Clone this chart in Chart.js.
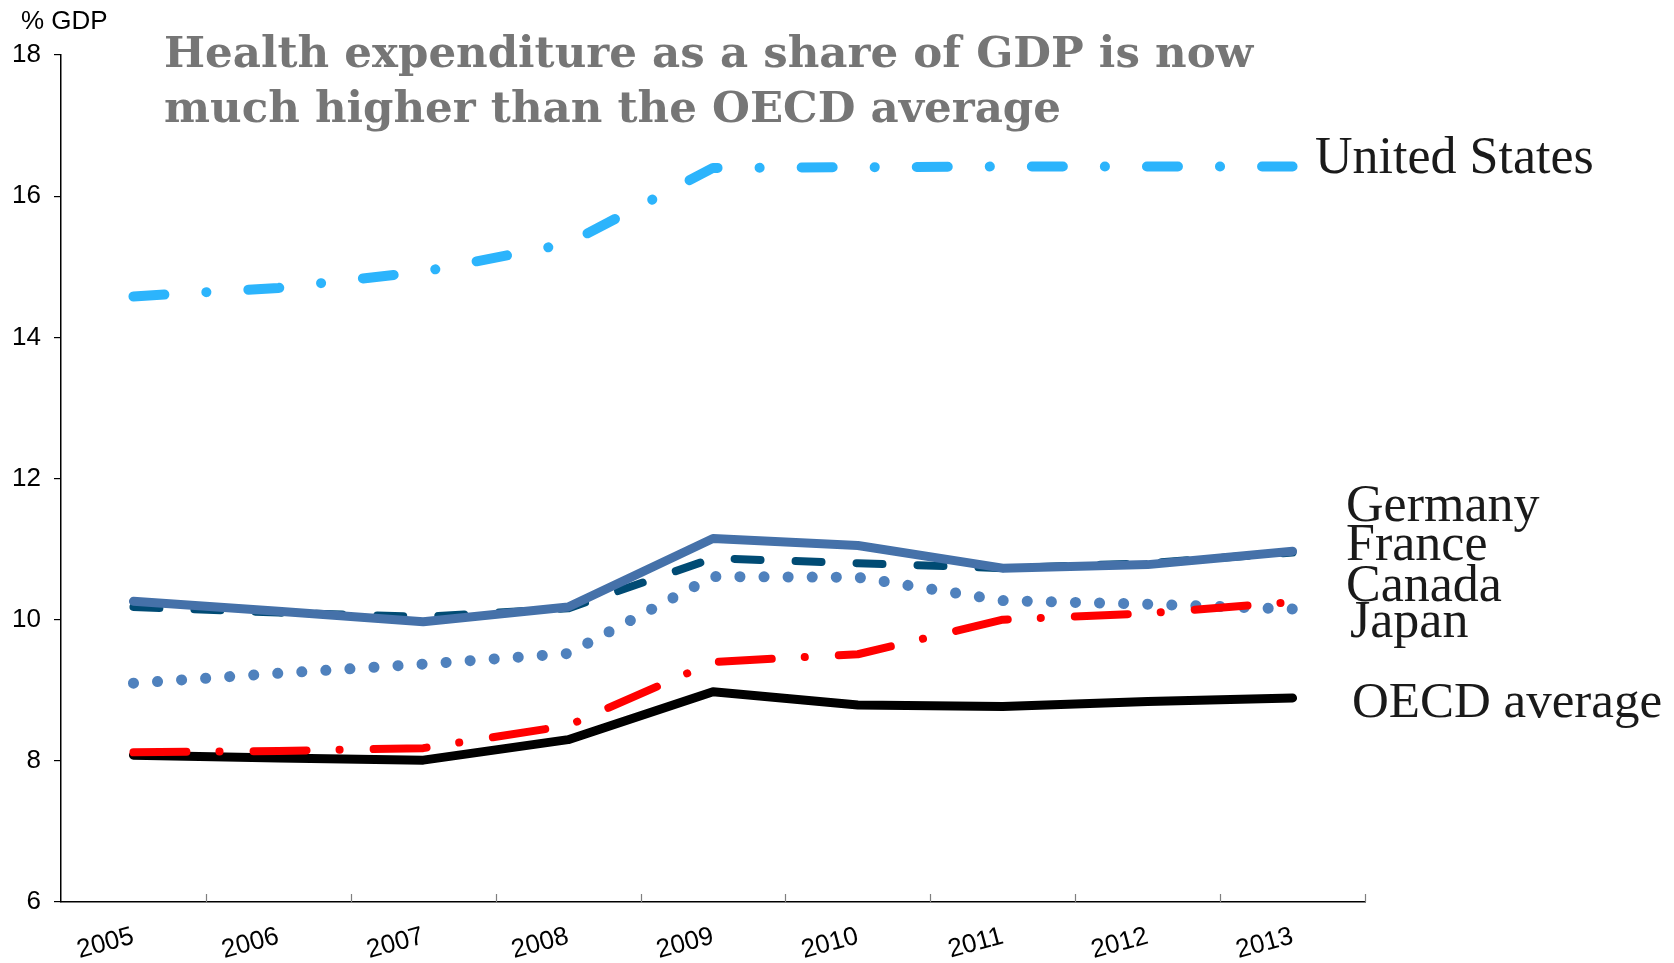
<!DOCTYPE html>
<html>
<head>
<meta charset="utf-8">
<script src="https://cdn.jsdelivr.net/npm/chart.js@4.4.1/dist/chart.umd.min.js"></script>
<style>
    html, body { margin: 0; padding: 0; background: #ffffff; }
    #wrap { width: 1674px; height: 963px; }
</style>
</head>
<body>
<div id="wrap"><canvas id="health-chart" width="1674" height="963"></canvas></div>
<script>
const years = ['2005', '2006', '2007', '2008', '2009', '2010', '2011', '2012', '2013'];
const yTicks = [6, 8, 10, 12, 14, 16, 18];

const unitedStates = [14.58, 14.70, 14.93, 15.33, 16.40, 16.41, 16.42, 16.42, 16.42];
const germany = [10.26, 10.12, 9.97, 10.18, 11.15, 11.05, 10.73, 10.78, 10.97];
const france = [10.18, 10.10, 10.04, 10.16, 10.87, 10.80, 10.73, 10.80, 10.95];
const japan = [8.12, 8.14, 8.18, 8.50, 9.40, 9.51, 10.00, 10.09, 10.25];
const canada = [9.10, 9.24, 9.37, 9.52, 10.61, 10.60, 10.27, 10.22, 10.15];
const oecdAverage = [8.08, 8.04, 8.01, 8.30, 8.98, 8.79, 8.77, 8.84, 8.89];

const titleLines = ['Health expenditure as a share of GDP is now', 'much higher than the OECD average'];

function lineSet(label, data, color, width, dash) {
    return {
        label: label,
        data: data,
        borderColor: color,
        backgroundColor: color,
        borderWidth: width,
        borderDash: dash,
        borderCapStyle: 'round',
        borderJoinStyle: 'round',
        pointRadius: 0,
        pointHoverRadius: 0,
        tension: 0,
        fill: false
    };
}

// draws the inside ticks on the x axis, title and series names
const annotations = {
    id: 'annotations',
    afterDraw(chart) {
        const ctx = chart.ctx;
        const area = chart.chartArea;
        const x = chart.scales.x;
        const band = x.getPixelForValue(1) - x.getPixelForValue(0);

        ctx.save();
        ctx.strokeStyle = '#7f7f7f';
        ctx.lineWidth = 1.2;
        for (let i = 1; i <= years.length; i++) {
            const px = Math.round(x.getPixelForValue(i) - band / 2) + 0.5;
            ctx.beginPath();
            ctx.moveTo(px, area.bottom);
            ctx.lineTo(px, area.bottom - 8);
            ctx.stroke();
        }

        ctx.fillStyle = '#000000';
        ctx.font = '26px "Liberation Sans", Arial, sans-serif';
        ctx.textBaseline = 'alphabetic';
        ctx.textAlign = 'left';
        ctx.fillText('% GDP', 21, 29);

        ctx.fillStyle = '#767676';
        ctx.font = 'bold 43.5px "DejaVu Serif", serif';
        ctx.fillText(titleLines[0], 164, 67);
        ctx.fillText(titleLines[1], 164, 122);

        ctx.fillStyle = '#1a1a1a';
        ctx.font = '52px "Liberation Serif", "Times New Roman", serif';
        ctx.fillText('United States', 1315, 173);
        ctx.fillText('Germany', 1346, 521);
        ctx.fillText('France', 1346, 560);
        ctx.fillText('Canada', 1346, 601);
        ctx.fillText('Japan', 1350, 637);
        ctx.font = '51px "Liberation Serif", "Times New Roman", serif';
        ctx.fillText('OECD average', 1352, 717);
        ctx.restore();
    }
};

const ctx = document.getElementById('health-chart').getContext('2d');
const chart = new Chart(ctx, {
    type: 'line',
    data: {
        labels: years,
        datasets: [
            lineSet('United States', unitedStates, '#2cb4fc', 10, [31, 42, 0.1, 42]),
            lineSet('Germany', germany, '#4571a9', 9, []),
            lineSet('France', france, '#004b74', 8, [26, 35]),
            lineSet('Japan', japan, '#ff0000', 8, [53, 33, 0.1, 34]),
            lineSet('Canada', canada, '#4f81bd', 11, [0.1, 24]),
            lineSet('OECD average', oecdAverage, '#000000', 9, [])
        ]
    },
    options: {
        responsive: false,
        animation: false,
        layout: {
            padding: { top: 55, right: 309, left: 0, bottom: 0 }
        },
        plugins: {
            legend: { display: false },
            title: { display: false },
            tooltip: { enabled: false }
        },
        scales: {
            x: {
                offset: true,
                grid: { display: false },
                border: { display: true, color: '#000000', width: 1.5 },
                ticks: {
                    color: '#000000',
                    font: { family: '"Liberation Sans", Arial, sans-serif', size: 26 },
                    minRotation: 15,
                    maxRotation: 15,
                    padding: 11
                },
                afterFit(scale) { scale.height = 61; }
            },
            y: {
                min: 6,
                max: 18,
                afterBuildTicks(scale) {
                    scale.ticks = yTicks.map(v => ({ value: v }));
                },
                grid: {
                    drawOnChartArea: false,
                    drawTicks: true,
                    tickLength: 7,
                    color: '#000000',
                    lineWidth: 1.2
                },
                border: { display: true, color: '#000000', width: 1.5 },
                ticks: {
                    color: '#000000',
                    font: { family: '"Liberation Sans", Arial, sans-serif', size: 26 },
                    padding: 13
                },
                afterFit(scale) { scale.width = 61; }
            }
        }
    },
    plugins: [annotations]
});
</script>
</body>
</html>
